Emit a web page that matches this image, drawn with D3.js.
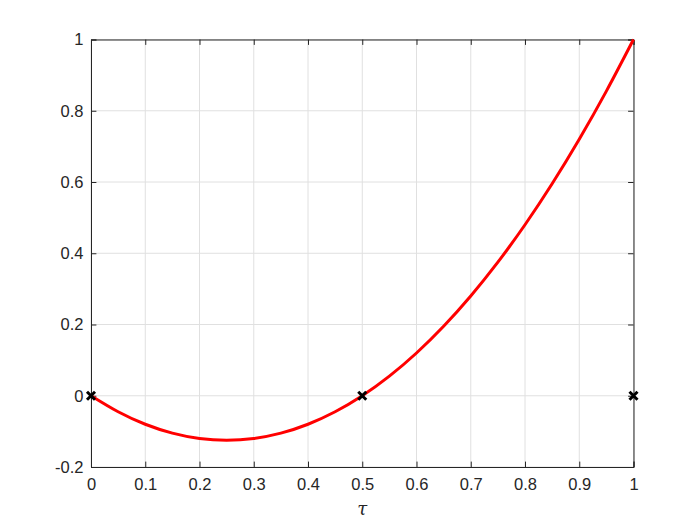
<!DOCTYPE html>
<html>
<head>
<meta charset="utf-8">
<script src="https://cdn.jsdelivr.net/npm/d3@7"></script>
<style>
  body { margin: 0; background: #fff; }
  svg { display: block; }
</style>
</head>
<body>
<div id="chart"></div>
<script>
// values
var tau = [0, 0.05, 0.1, 0.15, 0.2, 0.25, 0.3, 0.35, 0.4, 0.45, 0.5,
           0.55, 0.6, 0.65, 0.7, 0.75, 0.8, 0.85, 0.9, 0.95, 1];
var phi = [0, -0.045, -0.08, -0.105, -0.12, -0.125, -0.12, -0.105, -0.08, -0.045, 0,
           0.055, 0.12, 0.195, 0.28, 0.375, 0.48, 0.595, 0.72, 0.855, 1];
var nodeX = [0, 0.5, 1];
var nodeY = [0, 0, 0];
var xTicks = [0, 0.1, 0.2, 0.3, 0.4, 0.5, 0.6, 0.7, 0.8, 0.9, 1];
var yTicks = [-0.2, 0, 0.2, 0.4, 0.6, 0.8, 1];

var width = 700, height = 525;
var padLeft = 91, padRight = 633.5, padTop = 39.5, padBottom = 467;
var axisColor = "#262626";
var font = "'Liberation Sans', Arial, Helvetica, sans-serif";
var fontSize = 16.5;

var svg = d3.select("#chart").append("svg")
    .attr("width", width)
    .attr("height", height);

var x = d3.scaleLinear().domain([0, 1]).range([padLeft, padRight]);
var y = d3.scaleLinear().domain([-0.2, 1]).range([padBottom, padTop]);

// grid
var grid = svg.append("g");
grid.selectAll(".gx").data(xTicks).enter().append("line")
    .attr("x1", function(d) { return x(d); })
    .attr("x2", function(d) { return x(d); })
    .attr("y1", padTop).attr("y2", padBottom)
    .style("stroke", "#e0e0e0").style("stroke-width", 1);
grid.selectAll(".gy").data(yTicks).enter().append("line")
    .attr("y1", function(d) { return y(d); })
    .attr("y2", function(d) { return y(d); })
    .attr("x1", padLeft).attr("x2", padRight)
    .style("stroke", "#e0e0e0").style("stroke-width", 1);

// axes (ticks inside, box on)
var tickLen = 5.4;
var fmt = function(d) { return String(+d.toFixed(1)); };

var xAxis = svg.append("g")
    .attr("transform", "translate(0," + padBottom + ")")
    .call(d3.axisBottom(x).tickValues(xTicks).tickSize(-tickLen).tickPadding(11).tickFormat(fmt));
var xTop = svg.append("g")
    .attr("transform", "translate(0," + padTop + ")")
    .call(d3.axisTop(x).tickValues(xTicks).tickSize(-tickLen).tickFormat(""));
var yAxis = svg.append("g")
    .attr("transform", "translate(" + padLeft + ",0)")
    .call(d3.axisLeft(y).tickValues(yTicks).tickSize(-tickLen).tickPadding(7.5).tickFormat(fmt));
var yRight = svg.append("g")
    .attr("transform", "translate(" + padRight + ",0)")
    .call(d3.axisRight(y).tickValues(yTicks).tickSize(-tickLen).tickFormat(""));

[xAxis, xTop, yAxis, yRight].forEach(function(a) {
    a.attr("font-size", fontSize).attr("font-family", font);
    a.select(".domain").attr("stroke", axisColor).attr("stroke-width", 1);
    a.selectAll(".tick line").attr("stroke", axisColor);
    a.selectAll(".tick text").attr("fill", axisColor);
});
xAxis.selectAll(".tick text").attr("dy", "0.71em");

// x label
svg.append("text")
    .attr("x", (padLeft + padRight) / 2)
    .attr("y", 515)
    .attr("text-anchor", "middle")
    .attr("font-family", "'DejaVu Serif', 'Liberation Serif', serif")
    .attr("font-style", "italic")
    .attr("font-size", 18)
    .attr("fill", axisColor)
    .text("τ");

// curve
var line = d3.line()
    .x(function(d, i) { return x(tau[i]); })
    .y(function(d) { return y(d); })
    .curve(d3.curveNatural);

svg.append("path")
    .datum(phi)
    .attr("d", line)
    .style("fill", "none")
    .style("stroke", "#ff0000")
    .style("stroke-width", 3);

// node markers
var m = 4;
var marks = svg.append("g");
nodeX.forEach(function(nx, i) {
    var cx = x(nx), cy = y(nodeY[i]);
    marks.append("path")
        .attr("d", "M" + (cx - m) + "," + (cy - m) + "L" + (cx + m) + "," + (cy + m) +
                   "M" + (cx - m) + "," + (cy + m) + "L" + (cx + m) + "," + (cy - m))
        .style("stroke", "#000")
        .style("stroke-width", 3)
        .style("fill", "none");
});
</script>
</body>
</html>
